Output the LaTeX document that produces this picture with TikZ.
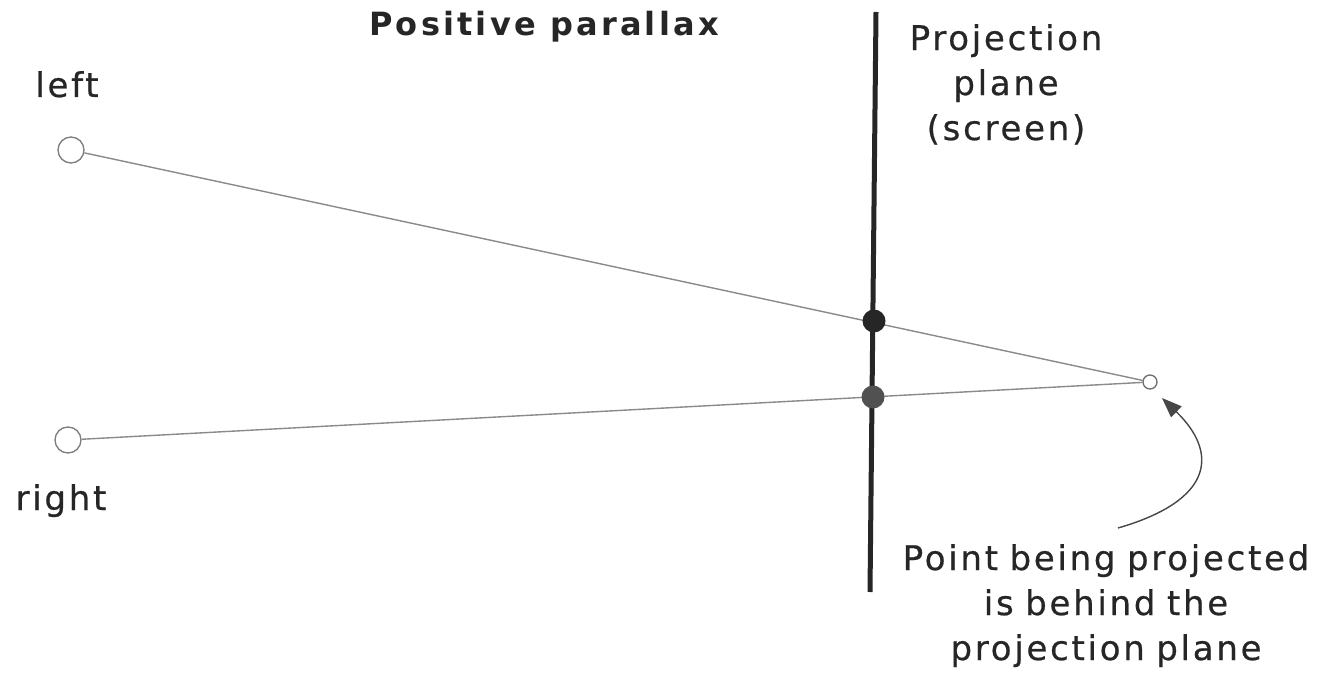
\documentclass[tikz,border=0pt]{standalone}
\usepackage{fontspec}
\setmainfont{DejaVu Sans}[LetterSpace=8, WordSpace=0.85, FakeBold=0.6]
\newfontfamily\boldlbl{DejaVu Sans Bold}[LetterSpace=10]
\usetikzlibrary{arrows.meta}
\definecolor{ink}{HTML}{262626}
\definecolor{ray}{HTML}{8A8A8A}
\tikzset{
  eye/.style={circle, draw=ray!90!black, line width=1.3pt, minimum size=26pt, inner sep=0pt, fill=white},
  target/.style={circle, draw=ray!80!black, line width=1.3pt, minimum size=14pt, inner sep=0pt, fill=white},
  hit/.style={circle, minimum size=23pt, inner sep=0pt},
  rayline/.style={draw=ray, line width=1.4pt},
  screenline/.style={draw=ink, line width=5pt},
  lbl/.style={text=ink, inner sep=0pt, font=\fontsize{34}{45}\selectfont},
  ttl/.style={text=ink, inner sep=0pt, font=\boldlbl\fontsize{32}{40}\selectfont},
  pointer/.style={draw=ink!85, line width=1.4pt, -{Triangle[length=20pt,width=15pt]}}
}
\begin{document}
\begin{tikzpicture}[x=1pt,y=-1pt]
\useasboundingbox[fill=white] (0,0) rectangle (1318,679);
% screen
\coordinate (S1) at (876,12);
\coordinate (S2) at (870,592);
\draw[screenline] (S1) -- (S2);
% eyes and point
\node[eye] (L) at (71,150) {};
\node[eye] (R) at (68,440) {};
\node[target] (P) at (1150,382) {};
% rays
\draw[rayline] (L) -- (P);
\draw[rayline] (R) -- (P);
% intersections
\node[hit, fill=ink] (D1) at (874,321) {};
\node[hit, fill=ink!80] (D2) at (873,397) {};
% labels
\node[ttl, anchor=base] (T) at (544,36) {Positive parallax};
\node[lbl, anchor=base] (LL) at (67,97) {left};
\node[lbl, anchor=base] (RL) at (61,510) {right};
\node[lbl, anchor=north, align=center] (PP) at (1006,24) {Projection\\plane\\(screen)};
\node[lbl, anchor=north, align=center] (PB) at (1106,544) {Point being projected\\is behind the\\projection plane};
% pointer arrow
\coordinate (A0) at (1118,528);
\coordinate (AT) at (1162,398);
\draw[pointer] (A0) .. controls (1215,500) and (1218,452) .. (AT);
\end{tikzpicture}
\end{document}
